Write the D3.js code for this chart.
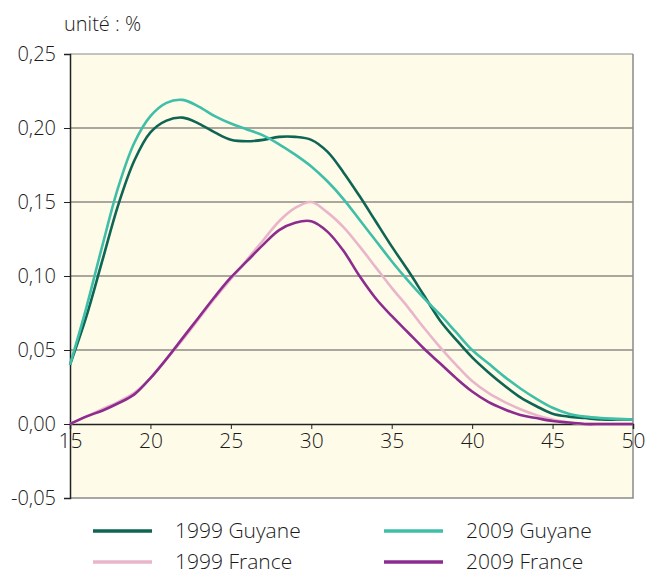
<!DOCTYPE html>
<html>
<head>
<meta charset="utf-8">
<script src="https://cdn.jsdelivr.net/npm/d3@7"></script>
<style>
    body { margin: 0; background: #fff; }
    text { font-family: "Open Sans", sans-serif; font-weight: 300; fill: #1a1a1a; }
</style>
</head>
<body>
<div id="chart"></div>
<script>
// ages 15..50
const ages = d3.range(15, 51);

const guyane1999 = [0.040, 0.072, 0.110, 0.148, 0.178, 0.197, 0.205, 0.207, 0.203, 0.197,
    0.192, 0.191, 0.192, 0.194, 0.194, 0.192, 0.184, 0.170, 0.154, 0.137,
    0.120, 0.104, 0.087, 0.070, 0.057, 0.045, 0.035, 0.026, 0.018, 0.012,
    0.007, 0.005, 0.004, 0.003, 0.003, 0.003];

const guyane2009 = [0.040, 0.078, 0.120, 0.160, 0.190, 0.208, 0.217, 0.219, 0.2145, 0.208,
    0.203, 0.199, 0.195, 0.189, 0.182, 0.174, 0.164, 0.152, 0.138, 0.124,
    0.110, 0.097, 0.085, 0.074, 0.062, 0.050, 0.041, 0.032, 0.024, 0.017,
    0.011, 0.007, 0.005, 0.004, 0.0035, 0.003];

const france1999 = [0.000, 0.005, 0.010, 0.015, 0.021, 0.031, 0.044, 0.057, 0.071, 0.085,
    0.098, 0.111, 0.124, 0.137, 0.146, 0.150, 0.143, 0.133, 0.120, 0.106,
    0.092, 0.079, 0.065, 0.052, 0.040, 0.029, 0.021, 0.015, 0.010, 0.006,
    0.003, 0.001, 0.000, 0.000, 0.000, 0.000];

const france2009 = [0.000, 0.005, 0.009, 0.014, 0.020, 0.031, 0.044, 0.058, 0.072, 0.086,
    0.099, 0.110, 0.121, 0.131, 0.136, 0.137, 0.130, 0.117, 0.100, 0.085,
    0.073, 0.062, 0.051, 0.041, 0.031, 0.022, 0.015, 0.010, 0.006, 0.004,
    0.002, 0.001, 0.000, 0.000, 0.000, 0.000];

const xTicks = [15, 20, 25, 30, 35, 40, 45, 50];
const yTicks = [-0.05, 0, 0.05, 0.10, 0.15, 0.20, 0.25];

const series = [
    { name: "1999 Guyane", values: guyane1999, color: "#0f6553" },
    { name: "2009 Guyane", values: guyane2009, color: "#3fbea8" },
    { name: "1999 France", values: france1999, color: "#e9b5cb" },
    { name: "2009 France", values: france2009, color: "#8d2c8f" }
];

const width = 648;
const height = 576;
const margin = { top: 54, right: 15, bottom: 78, left: 70 };

const svg = d3.select('#chart').append('svg')
    .attr('width', width)
    .attr('height', height);

const x = d3.scaleLinear().domain([15, 50]).range([margin.left, width - margin.right]);
const y = d3.scaleLinear().domain([-0.05, 0.25]).range([height - margin.bottom, margin.top]);

const fmt = d => d3.format('.2f')(d).replace('.', ',').replace('−', '-');

// plot background
svg.append('rect')
    .attr('x', x(15))
    .attr('y', y(0.25))
    .attr('width', x(50) - x(15))
    .attr('height', y(-0.05) - y(0.25))
    .attr('fill', '#fefbe9');

// grid lines
svg.selectAll('.grid')
    .data(yTicks.filter(d => d > 0))
    .enter().append('line')
    .attr('class', 'grid')
    .attr('x1', x(15))
    .attr('x2', x(50))
    .attr('y1', d => y(d))
    .attr('y2', d => y(d))
    .attr('stroke', d => d === 0.25 ? '#8a8a8a' : '#555')
    .attr('stroke-width', 1.2);

// frame right / bottom
svg.append('path')
    .attr('d', `M${x(50)},${y(0.25)}V${y(-0.05)}H${x(15)}`)
    .attr('fill', 'none')
    .attr('stroke', '#8a8a8a')
    .attr('stroke-width', 1.5);

// y axis
const yAxis = svg.append('g')
    .attr('transform', `translate(${x(15)},0)`)
    .call(d3.axisLeft(y).tickValues(yTicks).tickFormat(fmt).tickSize(6).tickPadding(8));
yAxis.select('.domain').attr('stroke', '#222').attr('stroke-width', 1.5);
yAxis.selectAll('.tick line').attr('stroke', '#222');
yAxis.selectAll('.tick text').style('font-size', '20px').attr('font-family', null).attr('fill', '#1a1a1a');

// x axis on the zero line
const xAxis = svg.append('g')
    .attr('transform', `translate(0,${y(0)})`)
    .call(d3.axisBottom(x).tickValues(xTicks).tickSize(5).tickPadding(4));
xAxis.select('.domain').attr('stroke', '#222').attr('stroke-width', 1.5);
xAxis.selectAll('.tick line').attr('stroke', '#222');
xAxis.selectAll('.tick text').style('font-size', '21px').attr('font-family', null).attr('fill', '#1a1a1a');

// unit label
svg.append('text')
    .attr('x', 64)
    .attr('y', 31)
    .style('font-size', '20px')
    .text('unité : %');

// series lines
const line = d3.line()
    .x((d, i) => x(ages[i]))
    .y(d => y(d))
    .curve(d3.curveCatmullRom);

svg.selectAll('.series')
    .data(series)
    .enter().append('path')
    .attr('class', 'series')
    .attr('d', d => line(d.values))
    .attr('fill', 'none')
    .attr('stroke', d => d.color)
    .attr('stroke-width', 2.6)
    .attr('stroke-linejoin', 'round');

// legend
const legendPos = [
    { lx: 93, ty: 531 }, { lx: 384, ty: 531 },
    { lx: 93, ty: 562 }, { lx: 384, ty: 562 }
];

const legend = svg.selectAll('.legend')
    .data(series)
    .enter().append('g')
    .attr('class', 'legend')
    .attr('transform', (d, i) => `translate(${legendPos[i].lx},${legendPos[i].ty})`);

legend.append('line')
    .attr('x1', 0)
    .attr('x2', 59)
    .attr('stroke', d => d.color)
    .attr('stroke-width', 3.3);

legend.append('text')
    .attr('x', 82)
    .attr('dy', '0.35em')
    .style('font-size', '21px')
    .text(d => d.name);
</script>
</body>
</html>
